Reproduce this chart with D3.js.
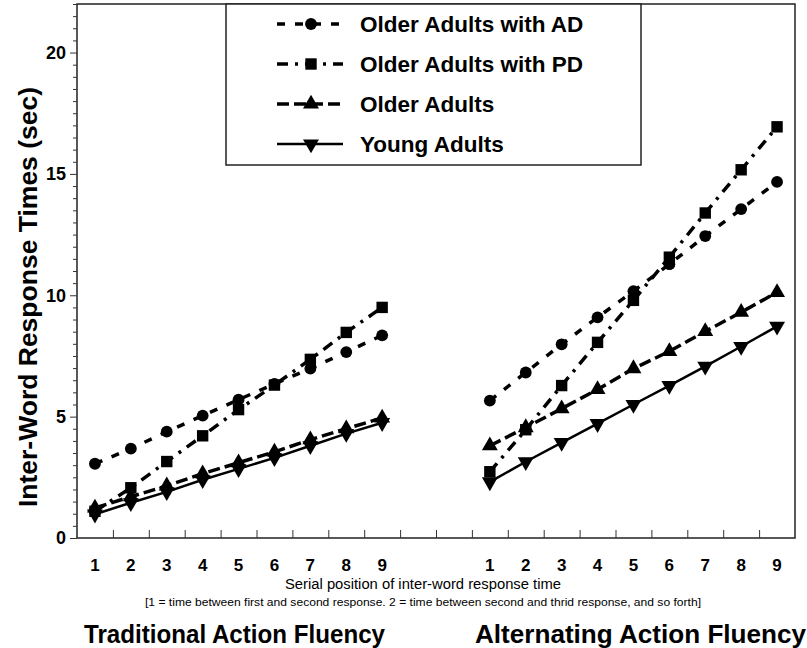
<!DOCTYPE html>
<html>
<head>
<meta charset="utf-8">
<script src="https://cdn.jsdelivr.net/npm/d3@7"></script>
<style>
  body { margin: 0; background: #fff; }
  text { font-family: "Liberation Sans", Arial, sans-serif; }
</style>
</head>
<body>
<svg id="chart" width="807" height="648"></svg>
<script>
// serial positions 1..9 for each task
const positions = [1, 2, 3, 4, 5, 6, 7, 8, 9];
const tasks = ["Traditional Action Fluency", "Alternating Action Fluency"];

// inter-word response times (sec)
const adTraditional = [3.06, 3.68, 4.38, 5.04, 5.7, 6.35, 6.98, 7.66, 8.35];
const adAlternating = [5.66, 6.82, 7.98, 9.09, 10.17, 11.28, 12.44, 13.55, 14.67];
const pdTraditional = [1.1, 2.07, 3.15, 4.21, 5.29, 6.3, 7.36, 8.47, 9.5];
const pdAlternating = [2.73, 4.46, 6.28, 8.06, 9.79, 11.57, 13.39, 15.17, 16.94];
const oldTraditional = [1.24, 1.7, 2.15, 2.65, 3.1, 3.55, 4.05, 4.5, 4.95];
const oldAlternating = [3.8, 4.55, 5.33, 6.12, 6.98, 7.69, 8.51, 9.3, 10.12];
const youngTraditional = [0.98, 1.45, 1.9, 2.4, 2.85, 3.3, 3.8, 4.3, 4.75];
const youngAlternating = [2.31, 3.14, 3.93, 4.71, 5.5, 6.28, 7.07, 7.89, 8.72];

const groupNames = ["Older Adults with AD", "Older Adults with PD", "Older Adults", "Young Adults"];
const yMajorTicks = [0, 5, 10, 15, 20];

const groups = [
  { name: groupNames[0], trad: adTraditional, alt: adAlternating, symbol: d3.symbolCircle, size: 110, dash: "8,10", width: 3.5 },
  { name: groupNames[1], trad: pdTraditional, alt: pdAlternating, symbol: d3.symbolSquare, size: 130, dash: "11,7,3,7", width: 3.5 },
  { name: groupNames[2], trad: oldTraditional, alt: oldAlternating, symbol: d3.symbolTriangle, size: 110, dash: "12,5", width: 3.5 },
  { name: groupNames[3], trad: youngTraditional, alt: youngAlternating, symbol: d3.symbolTriangle, size: 110, dash: null, width: 2.5, flip: true }
];

const svg = d3.select("#chart");

const plotLeft = 77, plotRight = 795, plotTop = 4, plotBottom = 538;

// one continuous slot axis: traditional at 1..9, alternating at 12..20
const x = d3.scaleLinear().domain([0.5, 20.5]).range([plotLeft, plotRight]);
const y = d3.scaleLinear().domain([0, 22]).range([plotBottom, plotTop]);
const slot = (task, p) => (task === 0 ? p : p + 11);

// frame
svg.append("rect")
  .attr("x", plotLeft).attr("y", plotTop)
  .attr("width", plotRight - plotLeft).attr("height", plotBottom - plotTop)
  .attr("fill", "none").attr("stroke", "#222").attr("stroke-width", 1.5);

// y axis with major and minor ticks
const minor = d3.range(0, 22.01, 0.5).filter((d) => !yMajorTicks.includes(d));
svg.append("g")
  .attr("transform", `translate(${plotLeft},0)`)
  .call(d3.axisLeft(y).tickValues(minor).tickSize(4).tickFormat(""))
  .call((g) => g.select(".domain").remove())
  .call((g) => g.selectAll("line").attr("stroke", "#333"));

svg.append("g")
  .attr("transform", `translate(${plotLeft},0)`)
  .call(d3.axisLeft(y).tickValues(yMajorTicks).tickSize(7).tickPadding(4))
  .call((g) => g.select(".domain").remove())
  .call((g) => g.selectAll("line").attr("stroke", "#333"))
  .call((g) => g.selectAll("text")
    .attr("font-size", 18).attr("font-weight", "bold").attr("fill", "#000")
    .attr("font-family", "Liberation Sans, Arial, sans-serif"));

// bottom ticks between positions, pointing inward
svg.append("g")
  .attr("transform", `translate(0,${plotBottom})`)
  .call(d3.axisTop(x).tickValues(d3.range(1.5, 20, 1)).tickSize(8).tickFormat(""))
  .call((g) => g.select(".domain").remove())
  .call((g) => g.selectAll("line").attr("stroke", "#333"));

// position labels
tasks.forEach((t, ti) => {
  svg.append("g").selectAll("text")
    .data(positions)
    .join("text")
    .attr("x", (d) => x(slot(ti, d)))
    .attr("y", 571)
    .attr("text-anchor", "middle")
    .attr("font-size", 17)
    .attr("font-weight", "bold")
    .text((d) => d);
});

// series
const line = d3.line().x((d) => x(d.s)).y((d) => y(d.v));

groups.forEach((g) => {
  [g.trad, g.alt].forEach((vals, ti) => {
    const pts = vals.map((v, i) => ({ s: slot(ti, positions[i]), v: v }));
    svg.append("path")
      .datum(pts)
      .attr("d", line)
      .attr("fill", "none")
      .attr("stroke", "#000")
      .attr("stroke-width", g.width)
      .attr("stroke-dasharray", g.dash);
    svg.append("g").selectAll("path")
      .data(pts)
      .join("path")
      .attr("d", d3.symbol().type(g.symbol).size(g.size))
      .attr("transform", (d) => `translate(${x(d.s)},${y(d.v)})${g.flip ? " rotate(180)" : ""}`)
      .attr("fill", "#000");
  });
});

// legend
const legend = svg.append("g");
legend.append("rect")
  .attr("x", 226).attr("y", plotTop)
  .attr("width", 415).attr("height", 161)
  .attr("fill", "#fff").attr("stroke", "#222").attr("stroke-width", 1.5);

groups.forEach((g, i) => {
  const ly = 24 + i * 40;
  legend.append("line")
    .attr("x1", 277).attr("x2", 343).attr("y1", ly).attr("y2", ly)
    .attr("stroke", "#000").attr("stroke-width", g.width)
    .attr("stroke-dasharray", g.dash);
  legend.append("path")
    .attr("d", d3.symbol().type(g.symbol).size(g.size)())
    .attr("transform", `translate(311,${ly})${g.flip ? " rotate(180)" : ""}`)
    .attr("fill", "#000");
  legend.append("text")
    .attr("x", 360).attr("y", ly + 8)
    .attr("font-size", 22.5).attr("font-weight", "bold")
    .text(g.name);
});

// axis titles
svg.append("text")
  .attr("transform", "translate(37,297) rotate(-90)")
  .attr("text-anchor", "middle")
  .attr("font-size", 26.5).attr("font-weight", "bold")
  .text("Inter-Word Response Times (sec)");

svg.append("text")
  .attr("x", 423).attr("y", 589)
  .attr("text-anchor", "middle")
  .attr("font-size", 14)
  .attr("font-family", "Liberation Sans Narrow, DejaVu Sans Condensed, sans-serif")
  .attr("textLength", 276).attr("lengthAdjust", "spacingAndGlyphs")
  .text("Serial position of inter-word response time");

svg.append("text")
  .attr("x", 423).attr("y", 606)
  .attr("text-anchor", "middle")
  .attr("font-size", 10.5)
  .attr("font-family", "Liberation Sans Narrow, DejaVu Sans Condensed, sans-serif")
  .attr("textLength", 556).attr("lengthAdjust", "spacingAndGlyphs")
  .text("[1 = time between first and second response. 2 = time between second and thrid response, and so forth]");

const taskX = [84, 475], taskW = [301, 331];
tasks.forEach((t, ti) => {
  svg.append("text")
    .attr("x", taskX[ti]).attr("y", 643)
    .attr("font-size", 26)
    .attr("font-weight", "bold")
    .attr("font-family", "Liberation Sans Narrow, DejaVu Sans Condensed, sans-serif")
    .attr("textLength", taskW[ti]).attr("lengthAdjust", "spacingAndGlyphs")
    .text(t);
});
</script>
</body>
</html>
